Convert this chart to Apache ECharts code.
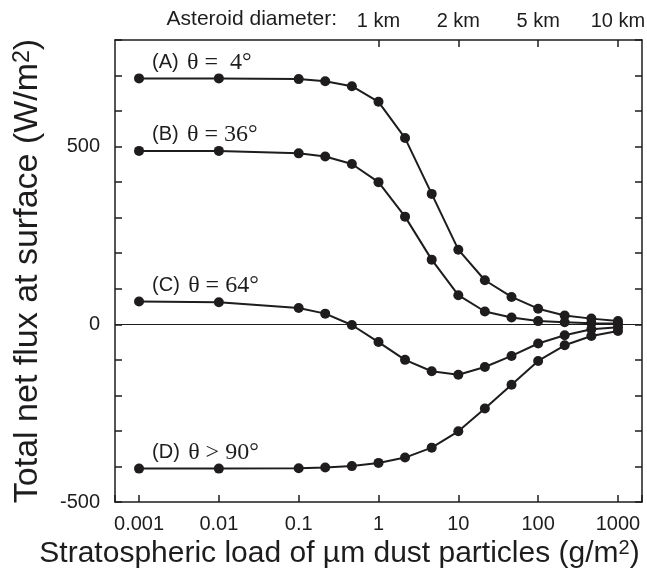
<!DOCTYPE html>
<html><head><meta charset="utf-8">
<script src="https://cdn.jsdelivr.net/npm/echarts@6/dist/echarts.min.js"></script>
<style>html,body{margin:0;padding:0;background:#fff}#c{width:647px;height:576px}</style>
</head><body><div id="c"></div>
<script>
// ---- data ----
const loads = [0.001, 0.01, 0.1, 0.215, 0.464, 1, 2.15, 4.64, 10, 21.5, 46.4, 100, 215, 464, 1000];
const fluxA = [692, 692, 690, 684, 670, 626, 524, 367, 210, 124, 77, 44, 25, 16, 9];
const fluxB = [488, 488, 481, 472, 451, 400, 303, 182, 82, 36, 19, 9, 6, 3, 2];
const fluxC = [64, 62, 46, 30, -2, -50, -100, -132, -142, -120, -89, -54, -31, -14, -8];
const fluxD = [-406, -406, -405, -403, -399, -390, -375, -347, -301, -237, -170, -103, -59, -33, -19];
const seriesTags = ['(A)', '(B)', '(C)', '(D)'];
const seriesAngles = ['\u03b8 =  4\u00b0', '\u03b8 = 36\u00b0', '\u03b8 = 64\u00b0', '\u03b8 > 90\u00b0'];
const xTickValues = [0.001, 0.01, 0.1, 1, 10, 100, 1000];
const xTickLabels = ['0.001', '0.01', '0.1', '1', '10', '100', '1000'];
const yLabelValues = [-500, 0, 500];
const yLabelTexts = ['-500', '0', '500'];
const kmTickLoads = [1, 10, 100, 1000];
const kmTickLabels = ['1 km', '2 km', '5 km', '10 km'];
const xMin = 0.0005, xMax = 2000;
const yMin = -500, yMax = 800, yStep = 100;

// ---- chart ----
const INK = '#1e1c1d';
const SANS = '"Liberation Sans", Arial, Helvetica, sans-serif';
const SERIF = '"Liberation Serif", "Times New Roman", serif';
const chart = echarts.init(document.getElementById('c'), null, {renderer: 'canvas'});

function nearIdx(arr, v, useLog) {
  for (let i = 0; i < arr.length; i++) {
    const a = useLog ? Math.log10(arr[i]) : arr[i];
    if (Math.abs(a - v) < 1e-6) return i;
  }
  return -1;
}

const fluxes = [fluxA, fluxB, fluxC, fluxD];
const series = fluxes.map((arr, k) => {
  const s = {
    type: 'line',
    xAxisIndex: 0, yAxisIndex: 0,
    symbol: 'circle', symbolSize: 10,
    lineStyle: {color: INK, width: 2},
    itemStyle: {color: INK},
    emphasis: {disabled: true},
    animation: false,
    z: 3,
    data: loads.map((x, i) => i === 0 ? {
      value: [x, arr[i]],
      label: {
        show: true, position: 'right', distance: 5, offset: [3, -16],
        formatter: '{a|' + seriesTags[k] + '} {b|' + seriesAngles[k] + '}',
        rich: {
          a: {fontFamily: SANS, fontSize: 20, color: INK, padding: [0, 5, 0, 0]},
          b: {fontFamily: SERIF, fontSize: 24, color: INK}
        }
      }
    } : [x, arr[i]])
  };
  if (k === 0) {
    s.markLine = {
      silent: true, symbol: 'none', animation: false,
      label: {show: false},
      lineStyle: {color: INK, width: 1.2, type: 'solid'},
      data: [{yAxis: 0}]
    };
  }
  return s;
});

const axisLineStyle = {color: INK, width: 1.5};
const tickStyle = {color: INK, width: 1.5};

chart.setOption({
  animation: false,
  backgroundColor: '#fff',
  grid: {left: 115, right: 5, top: 40, bottom: 74, containLabel: false, outerBoundsMode: 'none'},
  graphic: [{
    type: 'text', right: 647 - 337, top: 9,
    style: {text: 'Asteroid diameter:', font: '21px ' + SANS, fill: INK}
  }],
  xAxis: [{
    type: 'log', logBase: 10, position: 'bottom',
    min: xMin, max: xMax,
    axisLine: {show: true, onZero: false, lineStyle: axisLineStyle},
    axisTick: {show: true, inside: true, length: 7, lineStyle: tickStyle},
    minorTick: {show: false},
    splitLine: {show: false},
    axisLabel: {
      fontSize: 20, fontFamily: SANS, color: INK, margin: 12,
      formatter: v => { const i = nearIdx(xTickValues, Math.log10(v), true); return i < 0 ? '' : xTickLabels[i]; }
    },
    name: '{t|Stratospheric load of \u00b5m dust particles (g/m}{s|2}{t|)}',
    nameLocation: 'middle', nameGap: 34,
    nameTextStyle: {
      padding: [0, 78, 0, 0],
      rich: {
        t: {fontSize: 30, fontFamily: SANS, color: INK},
        s: {fontSize: 20, fontFamily: SANS, color: INK, verticalAlign: 'top'}
      }
    }
  }, {
    type: 'value', position: 'top',
    min: Math.log10(xMin), max: Math.log10(xMax),
    axisLine: {show: true, onZero: false, lineStyle: axisLineStyle},
    axisTick: {show: true, inside: true, length: 7, lineStyle: tickStyle, customValues: kmTickLoads.map(v => Math.log10(v))},
    splitLine: {show: false},
    axisLabel: {
      fontSize: 20, fontFamily: SANS, color: INK, margin: 9,
      customValues: kmTickLoads.map(v => Math.log10(v)),
      formatter: v => { const i = nearIdx(kmTickLoads, v, true); return i < 0 ? '' : kmTickLabels[i]; }
    }
  }],
  yAxis: [{
    type: 'value', position: 'left',
    min: yMin, max: yMax, interval: yStep,
    axisLine: {show: true, onZero: false, lineStyle: axisLineStyle},
    axisTick: {show: true, inside: true, length: 7, lineStyle: tickStyle},
    splitLine: {show: false},
    axisLabel: {
      fontSize: 20, fontFamily: SANS, color: INK, margin: 15,
      formatter: v => { const i = yLabelValues.indexOf(v); return i < 0 ? '' : yLabelTexts[i]; }
    },
    name: '{t|Total net flux at surface (W/m}{s|2}{t|)}',
    nameLocation: 'middle', nameRotate: 90, nameGap: 70,
    nameTextStyle: {
      rich: {
        t: {fontSize: 34, fontFamily: SANS, color: INK},
        s: {fontSize: 23, fontFamily: SANS, color: INK, verticalAlign: 'top'}
      }
    }
  }, {
    type: 'value', position: 'right',
    min: yMin, max: yMax, interval: yStep,
    axisLine: {show: true, onZero: false, lineStyle: axisLineStyle},
    axisTick: {show: true, inside: true, length: 7, lineStyle: tickStyle},
    splitLine: {show: false},
    axisLabel: {show: false}
  }],
  series: series
});
</script>
</body></html>
